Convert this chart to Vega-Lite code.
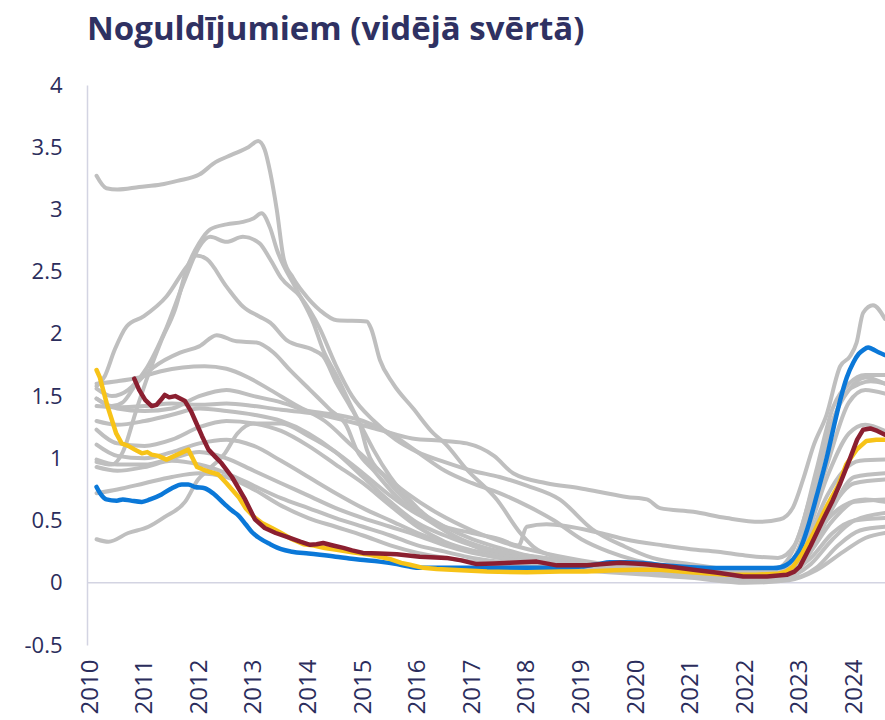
{
  "$schema": "https://vega.github.io/schema/vega-lite/v6.json",
  "width": 798,
  "height": 560,
  "autosize": {"type": "none"},
  "padding": {"left": 87, "top": 85, "right": 0, "bottom": 75},
  "background": "white",
  "config": {"view": {"stroke": null}, "font": "Open Sans"},
  "title": {"text": "Noguldījumiem (vidējā svērtā)", "anchor": "start", "frame": "group", "font": "Open Sans", "fontSize": 33, "fontWeight": "bold", "color": "#2f3162", "baseline": "alphabetic", "offset": 34, "dy": 33},
  "datasets": {
    "lines": [
      {"s":"g1","t":2010.12,"v":3.27},{"s":"g1","t":2010.3,"v":3.17},{"s":"g1","t":2010.5,"v":3.16},{"s":"g1","t":2010.9,"v":3.18},{"s":"g1","t":2011.3,"v":3.2},{"s":"g1","t":2011.6,"v":3.23},{"s":"g1","t":2012.0,"v":3.28},{"s":"g1","t":2012.3,"v":3.38},{"s":"g1","t":2012.6,"v":3.44},{"s":"g1","t":2012.9,"v":3.5},{"s":"g1","t":2013.08,"v":3.55},{"s":"g1","t":2013.2,"v":3.48},{"s":"g1","t":2013.3,"v":3.3},{"s":"g1","t":2013.42,"v":3.0},{"s":"g1","t":2013.55,"v":2.6},{"s":"g1","t":2013.72,"v":2.45},{"s":"g1","t":2013.91,"v":2.33},{"s":"g1","t":2014.21,"v":2.19},{"s":"g1","t":2014.52,"v":2.11},{"s":"g1","t":2015.07,"v":2.1},{"s":"g1","t":2015.15,"v":2.04},{"s":"g1","t":2015.31,"v":1.79},{"s":"g1","t":2015.55,"v":1.6},{"s":"g1","t":2015.92,"v":1.4},{"s":"g1","t":2016.29,"v":1.2},{"s":"g1","t":2016.5,"v":1.12},{"s":"g1","t":2016.9,"v":0.91},{"s":"g1","t":2017.45,"v":0.67},{"s":"g1","t":2017.88,"v":0.4},{"s":"g1","t":2018.12,"v":0.29},{"s":"g1","t":2018.6,"v":0.2},{"s":"g1","t":2019.2,"v":0.15},{"s":"g1","t":2020,"v":0.1},{"s":"g1","t":2021,"v":0.06},{"s":"g1","t":2022,"v":0.03},{"s":"g1","t":2022.6,"v":0.05},{"s":"g1","t":2023.0,"v":0.15},{"s":"g1","t":2023.4,"v":0.45},{"s":"g1","t":2023.8,"v":0.62},{"s":"g1","t":2024.2,"v":0.67},{"s":"g1","t":2024.56,"v":0.65},

      {"s":"g2","t":2010.12,"v":0.97},{"s":"g2","t":2010.4,"v":0.95},{"s":"g2","t":2010.6,"v":1.05},{"s":"g2","t":2010.85,"v":1.39},{"s":"g2","t":2011.05,"v":1.65},{"s":"g2","t":2011.31,"v":1.95},{"s":"g2","t":2011.56,"v":2.2},{"s":"g2","t":2011.77,"v":2.52},{"s":"g2","t":2012.0,"v":2.73},{"s":"g2","t":2012.2,"v":2.84},{"s":"g2","t":2012.5,"v":2.88},{"s":"g2","t":2012.8,"v":2.9},{"s":"g2","t":2013.0,"v":2.93},{"s":"g2","t":2013.14,"v":2.97},{"s":"g2","t":2013.3,"v":2.85},{"s":"g2","t":2013.42,"v":2.68},{"s":"g2","t":2013.78,"v":2.36},{"s":"g2","t":2014.09,"v":2.09},{"s":"g2","t":2014.27,"v":1.87},{"s":"g2","t":2014.52,"v":1.66},{"s":"g2","t":2014.76,"v":1.44},{"s":"g2","t":2015.0,"v":1.23},{"s":"g2","t":2015.19,"v":1.07},{"s":"g2","t":2015.5,"v":0.85},{"s":"g2","t":2016,"v":0.6},{"s":"g2","t":2016.5,"v":0.42},{"s":"g2","t":2017,"v":0.3},{"s":"g2","t":2017.5,"v":0.22},{"s":"g2","t":2018,"v":0.17},{"s":"g2","t":2019,"v":0.12},{"s":"g2","t":2020,"v":0.08},{"s":"g2","t":2021,"v":0.05},{"s":"g2","t":2022,"v":0.02},{"s":"g2","t":2022.6,"v":0.04},{"s":"g2","t":2023,"v":0.15},{"s":"g2","t":2023.3,"v":0.4},{"s":"g2","t":2023.6,"v":0.62},{"s":"g2","t":2024,"v":0.8},{"s":"g2","t":2024.56,"v":0.83},

      {"s":"g3","t":2010.12,"v":1.56},{"s":"g3","t":2010.4,"v":1.5},{"s":"g3","t":2010.7,"v":1.55},{"s":"g3","t":2011.0,"v":1.7},{"s":"g3","t":2011.4,"v":2.05},{"s":"g3","t":2011.75,"v":2.45},{"s":"g3","t":2012.0,"v":2.7},{"s":"g3","t":2012.2,"v":2.78},{"s":"g3","t":2012.5,"v":2.74},{"s":"g3","t":2012.8,"v":2.78},{"s":"g3","t":2013.1,"v":2.73},{"s":"g3","t":2013.3,"v":2.6},{"s":"g3","t":2013.5,"v":2.45},{"s":"g3","t":2013.85,"v":2.3},{"s":"g3","t":2014.2,"v":2.05},{"s":"g3","t":2014.5,"v":1.75},{"s":"g3","t":2014.8,"v":1.5},{"s":"g3","t":2015.2,"v":1.3},{"s":"g3","t":2015.6,"v":1.15},{"s":"g3","t":2016,"v":1.05},{"s":"g3","t":2016.5,"v":0.97},{"s":"g3","t":2017,"v":0.9},{"s":"g3","t":2017.5,"v":0.85},{"s":"g3","t":2018,"v":0.78},{"s":"g3","t":2018.6,"v":0.67},{"s":"g3","t":2019.2,"v":0.43},{"s":"g3","t":2019.8,"v":0.29},{"s":"g3","t":2020.3,"v":0.2},{"s":"g3","t":2021,"v":0.15},{"s":"g3","t":2022,"v":0.1},{"s":"g3","t":2022.6,"v":0.12},{"s":"g3","t":2023.0,"v":0.4},{"s":"g3","t":2023.3,"v":0.9},{"s":"g3","t":2023.6,"v":1.4},{"s":"g3","t":2023.9,"v":1.6},{"s":"g3","t":2024.2,"v":1.67},{"s":"g3","t":2024.56,"v":1.67},

      {"s":"g4","t":2010.12,"v":1.58},{"s":"g4","t":2010.27,"v":1.66},{"s":"g4","t":2010.45,"v":1.87},{"s":"g4","t":2010.67,"v":2.06},{"s":"g4","t":2010.98,"v":2.14},{"s":"g4","t":2011.4,"v":2.3},{"s":"g4","t":2011.77,"v":2.54},{"s":"g4","t":2011.95,"v":2.63},{"s":"g4","t":2012.14,"v":2.6},{"s":"g4","t":2012.5,"v":2.38},{"s":"g4","t":2012.8,"v":2.22},{"s":"g4","t":2013.1,"v":2.14},{"s":"g4","t":2013.3,"v":2.09},{"s":"g4","t":2013.6,"v":1.95},{"s":"g4","t":2014.09,"v":1.87},{"s":"g4","t":2014.27,"v":1.82},{"s":"g4","t":2014.52,"v":1.6},{"s":"g4","t":2014.76,"v":1.42},{"s":"g4","t":2014.95,"v":1.26},{"s":"g4","t":2015.07,"v":1.07},{"s":"g4","t":2015.4,"v":0.85},{"s":"g4","t":2015.9,"v":0.62},{"s":"g4","t":2016.5,"v":0.45},{"s":"g4","t":2017,"v":0.35},{"s":"g4","t":2017.5,"v":0.28},{"s":"g4","t":2018,"v":0.22},{"s":"g4","t":2019,"v":0.15},{"s":"g4","t":2020,"v":0.1},{"s":"g4","t":2021,"v":0.07},{"s":"g4","t":2022,"v":0.04},{"s":"g4","t":2022.7,"v":0.06},{"s":"g4","t":2023.1,"v":0.3},{"s":"g4","t":2023.5,"v":0.7},{"s":"g4","t":2023.8,"v":0.9},{"s":"g4","t":2024.1,"v":0.98},{"s":"g4","t":2024.56,"v":0.99},

      {"s":"g5","t":2010.12,"v":0.35},{"s":"g5","t":2010.34,"v":0.33},{"s":"g5","t":2010.7,"v":0.4},{"s":"g5","t":2011.07,"v":0.45},{"s":"g5","t":2011.37,"v":0.53},{"s":"g5","t":2011.74,"v":0.65},{"s":"g5","t":2011.98,"v":0.83},{"s":"g5","t":2012.17,"v":0.91},{"s":"g5","t":2012.47,"v":1.04},{"s":"g5","t":2012.7,"v":1.2},{"s":"g5","t":2013.0,"v":1.28},{"s":"g5","t":2013.5,"v":1.28},{"s":"g5","t":2014,"v":1.18},{"s":"g5","t":2014.5,"v":1.05},{"s":"g5","t":2015,"v":0.88},{"s":"g5","t":2015.5,"v":0.7},{"s":"g5","t":2016,"v":0.55},{"s":"g5","t":2016.5,"v":0.45},{"s":"g5","t":2017,"v":0.4},{"s":"g5","t":2017.5,"v":0.35},{"s":"g5","t":2017.85,"v":0.3},{"s":"g5","t":2018.0,"v":0.45},{"s":"g5","t":2018.36,"v":0.47},{"s":"g5","t":2019.34,"v":0.4},{"s":"g5","t":2019.8,"v":0.35},{"s":"g5","t":2020.5,"v":0.3},{"s":"g5","t":2021,"v":0.27},{"s":"g5","t":2021.5,"v":0.25},{"s":"g5","t":2022,"v":0.22},{"s":"g5","t":2022.6,"v":0.2},{"s":"g5","t":2022.9,"v":0.3},{"s":"g5","t":2023.2,"v":0.7},{"s":"g5","t":2023.5,"v":1.15},{"s":"g5","t":2023.8,"v":1.5},{"s":"g5","t":2024.1,"v":1.6},{"s":"g5","t":2024.3,"v":1.62},{"s":"g5","t":2024.56,"v":1.6},

      {"s":"g6","t":2010.12,"v":1.48},{"s":"g6","t":2010.4,"v":1.42},{"s":"g6","t":2010.6,"v":1.45},{"s":"g6","t":2010.85,"v":1.6},{"s":"g6","t":2011.16,"v":1.73},{"s":"g6","t":2011.65,"v":1.85},{"s":"g6","t":2012.0,"v":1.9},{"s":"g6","t":2012.32,"v":1.99},{"s":"g6","t":2012.68,"v":1.94},{"s":"g6","t":2013.05,"v":1.93},{"s":"g6","t":2013.36,"v":1.85},{"s":"g6","t":2013.66,"v":1.71},{"s":"g6","t":2014.03,"v":1.55},{"s":"g6","t":2014.4,"v":1.39},{"s":"g6","t":2014.7,"v":1.26},{"s":"g6","t":2014.88,"v":1.07},{"s":"g6","t":2015.2,"v":0.9},{"s":"g6","t":2015.6,"v":0.7},{"s":"g6","t":2016.2,"v":0.5},{"s":"g6","t":2016.8,"v":0.35},{"s":"g6","t":2017.5,"v":0.25},{"s":"g6","t":2018.3,"v":0.18},{"s":"g6","t":2019.3,"v":0.12},{"s":"g6","t":2020.5,"v":0.08},{"s":"g6","t":2021.5,"v":0.05},{"s":"g6","t":2022.3,"v":0.02},{"s":"g6","t":2022.8,"v":0.05},{"s":"g6","t":2023.2,"v":0.25},{"s":"g6","t":2023.6,"v":0.6},{"s":"g6","t":2024.0,"v":0.85},{"s":"g6","t":2024.56,"v":0.88},

      {"s":"g7","t":2010.12,"v":1.6},{"s":"g7","t":2010.5,"v":1.62},{"s":"g7","t":2010.9,"v":1.65},{"s":"g7","t":2011.3,"v":1.7},{"s":"g7","t":2011.7,"v":1.73},{"s":"g7","t":2012.1,"v":1.74},{"s":"g7","t":2012.5,"v":1.72},{"s":"g7","t":2012.9,"v":1.65},{"s":"g7","t":2013.3,"v":1.55},{"s":"g7","t":2013.8,"v":1.42},{"s":"g7","t":2014.3,"v":1.3},{"s":"g7","t":2014.8,"v":1.1},{"s":"g7","t":2015.3,"v":0.9},{"s":"g7","t":2015.8,"v":0.72},{"s":"g7","t":2016.4,"v":0.55},{"s":"g7","t":2017,"v":0.42},{"s":"g7","t":2017.6,"v":0.32},{"s":"g7","t":2018.2,"v":0.25},{"s":"g7","t":2019,"v":0.18},{"s":"g7","t":2020,"v":0.12},{"s":"g7","t":2021,"v":0.1},{"s":"g7","t":2022,"v":0.08},{"s":"g7","t":2022.7,"v":0.1},{"s":"g7","t":2023.0,"v":0.3},{"s":"g7","t":2023.3,"v":0.8},{"s":"g7","t":2023.6,"v":1.3},{"s":"g7","t":2023.9,"v":1.55},{"s":"g7","t":2024.2,"v":1.65},{"s":"g7","t":2024.56,"v":1.6},

      {"s":"g8","t":2010.12,"v":1.42},{"s":"g8","t":2010.5,"v":1.41},{"s":"g8","t":2011,"v":1.42},{"s":"g8","t":2011.5,"v":1.44},{"s":"g8","t":2012,"v":1.43},{"s":"g8","t":2012.5,"v":1.44},{"s":"g8","t":2013,"v":1.42},{"s":"g8","t":2013.5,"v":1.39},{"s":"g8","t":2014.1,"v":1.36},{"s":"g8","t":2014.7,"v":1.3},{"s":"g8","t":2015.3,"v":1.23},{"s":"g8","t":2015.9,"v":1.16},{"s":"g8","t":2016.5,"v":1.14},{"s":"g8","t":2016.9,"v":1.12},{"s":"g8","t":2017.4,"v":1.02},{"s":"g8","t":2017.75,"v":0.88},{"s":"g8","t":2018.36,"v":0.8},{"s":"g8","t":2018.97,"v":0.76},{"s":"g8","t":2019.34,"v":0.73},{"s":"g8","t":2019.83,"v":0.69},{"s":"g8","t":2020.2,"v":0.67},{"s":"g8","t":2020.44,"v":0.6},{"s":"g8","t":2021.05,"v":0.57},{"s":"g8","t":2021.66,"v":0.52},{"s":"g8","t":2022.27,"v":0.49},{"s":"g8","t":2022.64,"v":0.51},{"s":"g8","t":2022.88,"v":0.61},{"s":"g8","t":2023.06,"v":0.83},{"s":"g8","t":2023.25,"v":1.1},{"s":"g8","t":2023.49,"v":1.35},{"s":"g8","t":2023.74,"v":1.74},{"s":"g8","t":2023.92,"v":1.82},{"s":"g8","t":2024.04,"v":1.93},{"s":"g8","t":2024.16,"v":2.17},{"s":"g8","t":2024.34,"v":2.23},{"s":"g8","t":2024.56,"v":2.12},

      {"s":"g9","t":2010.12,"v":1.3},{"s":"g9","t":2010.5,"v":1.27},{"s":"g9","t":2011,"v":1.3},{"s":"g9","t":2011.5,"v":1.35},{"s":"g9","t":2012,"v":1.4},{"s":"g9","t":2012.5,"v":1.38},{"s":"g9","t":2013,"v":1.35},{"s":"g9","t":2013.5,"v":1.3},{"s":"g9","t":2014,"v":1.2},{"s":"g9","t":2014.5,"v":1.05},{"s":"g9","t":2015,"v":0.85},{"s":"g9","t":2015.5,"v":0.65},{"s":"g9","t":2016,"v":0.48},{"s":"g9","t":2016.5,"v":0.38},{"s":"g9","t":2017,"v":0.3},{"s":"g9","t":2017.5,"v":0.25},{"s":"g9","t":2018,"v":0.22},{"s":"g9","t":2019,"v":0.16},{"s":"g9","t":2020,"v":0.1},{"s":"g9","t":2021,"v":0.07},{"s":"g9","t":2022,"v":0.05},{"s":"g9","t":2022.7,"v":0.08},{"s":"g9","t":2023.1,"v":0.35},{"s":"g9","t":2023.5,"v":0.85},{"s":"g9","t":2023.9,"v":1.2},{"s":"g9","t":2024.2,"v":1.27},{"s":"g9","t":2024.56,"v":1.22},

      {"s":"g10","t":2010.12,"v":1.23},{"s":"g10","t":2010.5,"v":1.12},{"s":"g10","t":2011,"v":1.1},{"s":"g10","t":2011.5,"v":1.15},{"s":"g10","t":2012,"v":1.25},{"s":"g10","t":2012.5,"v":1.3},{"s":"g10","t":2013,"v":1.28},{"s":"g10","t":2013.5,"v":1.22},{"s":"g10","t":2014,"v":1.1},{"s":"g10","t":2014.5,"v":0.95},{"s":"g10","t":2015,"v":0.8},{"s":"g10","t":2015.5,"v":0.62},{"s":"g10","t":2016,"v":0.45},{"s":"g10","t":2016.5,"v":0.33},{"s":"g10","t":2017,"v":0.26},{"s":"g10","t":2017.5,"v":0.22},{"s":"g10","t":2018,"v":0.2},{"s":"g10","t":2019,"v":0.15},{"s":"g10","t":2020,"v":0.12},{"s":"g10","t":2021,"v":0.1},{"s":"g10","t":2022,"v":0.07},{"s":"g10","t":2022.7,"v":0.08},{"s":"g10","t":2023.1,"v":0.2},{"s":"g10","t":2023.6,"v":0.5},{"s":"g10","t":2024,"v":0.65},{"s":"g10","t":2024.56,"v":0.67},

      {"s":"g11","t":2010.12,"v":1.11},{"s":"g11","t":2010.5,"v":1.02},{"s":"g11","t":2011,"v":1.0},{"s":"g11","t":2011.5,"v":1.05},{"s":"g11","t":2012,"v":1.12},{"s":"g11","t":2012.5,"v":1.15},{"s":"g11","t":2013,"v":1.1},{"s":"g11","t":2013.5,"v":0.98},{"s":"g11","t":2014,"v":0.85},{"s":"g11","t":2014.5,"v":0.72},{"s":"g11","t":2015,"v":0.6},{"s":"g11","t":2015.5,"v":0.5},{"s":"g11","t":2016,"v":0.4},{"s":"g11","t":2016.5,"v":0.32},{"s":"g11","t":2017,"v":0.25},{"s":"g11","t":2017.5,"v":0.2},{"s":"g11","t":2018,"v":0.18},{"s":"g11","t":2019,"v":0.14},{"s":"g11","t":2020,"v":0.1},{"s":"g11","t":2021,"v":0.06},{"s":"g11","t":2022,"v":0.03},{"s":"g11","t":2022.7,"v":0.04},{"s":"g11","t":2023.2,"v":0.15},{"s":"g11","t":2023.6,"v":0.35},{"s":"g11","t":2024,"v":0.5},{"s":"g11","t":2024.56,"v":0.56},

      {"s":"g12","t":2010.12,"v":0.99},{"s":"g12","t":2010.5,"v":0.95},{"s":"g12","t":2011,"v":0.95},{"s":"g12","t":2011.5,"v":1.0},{"s":"g12","t":2012,"v":1.05},{"s":"g12","t":2012.5,"v":1.0},{"s":"g12","t":2013,"v":0.9},{"s":"g12","t":2013.5,"v":0.8},{"s":"g12","t":2014,"v":0.7},{"s":"g12","t":2014.5,"v":0.6},{"s":"g12","t":2015,"v":0.52},{"s":"g12","t":2015.5,"v":0.45},{"s":"g12","t":2016,"v":0.38},{"s":"g12","t":2016.5,"v":0.3},{"s":"g12","t":2017,"v":0.24},{"s":"g12","t":2017.5,"v":0.2},{"s":"g12","t":2018,"v":0.17},{"s":"g12","t":2019,"v":0.13},{"s":"g12","t":2020,"v":0.1},{"s":"g12","t":2021,"v":0.08},{"s":"g12","t":2022,"v":0.06},{"s":"g12","t":2022.7,"v":0.07},{"s":"g12","t":2023.2,"v":0.2},{"s":"g12","t":2023.6,"v":0.4},{"s":"g12","t":2024,"v":0.5},{"s":"g12","t":2024.56,"v":0.52},

      {"s":"g13","t":2010.12,"v":0.93},{"s":"g13","t":2010.5,"v":0.9},{"s":"g13","t":2011,"v":0.93},{"s":"g13","t":2011.5,"v":0.98},{"s":"g13","t":2012,"v":0.95},{"s":"g13","t":2012.5,"v":0.88},{"s":"g13","t":2013,"v":0.78},{"s":"g13","t":2013.5,"v":0.68},{"s":"g13","t":2014,"v":0.6},{"s":"g13","t":2014.5,"v":0.52},{"s":"g13","t":2015,"v":0.45},{"s":"g13","t":2015.5,"v":0.38},{"s":"g13","t":2016,"v":0.3},{"s":"g13","t":2016.5,"v":0.25},{"s":"g13","t":2017,"v":0.2},{"s":"g13","t":2017.5,"v":0.17},{"s":"g13","t":2018,"v":0.15},{"s":"g13","t":2019,"v":0.12},{"s":"g13","t":2020,"v":0.08},{"s":"g13","t":2021,"v":0.05},{"s":"g13","t":2022,"v":0.02},{"s":"g13","t":2022.8,"v":0.03},{"s":"g13","t":2023.3,"v":0.12},{"s":"g13","t":2023.7,"v":0.3},{"s":"g13","t":2024.1,"v":0.42},{"s":"g13","t":2024.56,"v":0.45},

      {"s":"g14","t":2010.12,"v":0.72},{"s":"g14","t":2010.5,"v":0.75},{"s":"g14","t":2011,"v":0.8},{"s":"g14","t":2011.5,"v":0.85},{"s":"g14","t":2012,"v":0.88},{"s":"g14","t":2012.5,"v":0.85},{"s":"g14","t":2013,"v":0.75},{"s":"g14","t":2013.5,"v":0.62},{"s":"g14","t":2014,"v":0.52},{"s":"g14","t":2014.5,"v":0.45},{"s":"g14","t":2015,"v":0.38},{"s":"g14","t":2015.5,"v":0.3},{"s":"g14","t":2016,"v":0.24},{"s":"g14","t":2016.5,"v":0.2},{"s":"g14","t":2017,"v":0.17},{"s":"g14","t":2017.5,"v":0.15},{"s":"g14","t":2018,"v":0.13},{"s":"g14","t":2019,"v":0.1},{"s":"g14","t":2020,"v":0.07},{"s":"g14","t":2021,"v":0.04},{"s":"g14","t":2022,"v":0.0},{"s":"g14","t":2022.8,"v":0.02},{"s":"g14","t":2023.3,"v":0.1},{"s":"g14","t":2023.8,"v":0.25},{"s":"g14","t":2024.2,"v":0.36},{"s":"g14","t":2024.56,"v":0.4},

      {"s":"g15","t":2010.12,"v":1.48},{"s":"g15","t":2010.5,"v":1.4},{"s":"g15","t":2011,"v":1.38},{"s":"g15","t":2011.5,"v":1.4},{"s":"g15","t":2012,"v":1.5},{"s":"g15","t":2012.5,"v":1.55},{"s":"g15","t":2013,"v":1.5},{"s":"g15","t":2013.5,"v":1.45},{"s":"g15","t":2014,"v":1.38},{"s":"g15","t":2014.5,"v":1.35},{"s":"g15","t":2015,"v":1.3},{"s":"g15","t":2015.5,"v":1.2},{"s":"g15","t":2016,"v":1.05},{"s":"g15","t":2016.5,"v":0.9},{"s":"g15","t":2017,"v":0.8},{"s":"g15","t":2017.5,"v":0.72},{"s":"g15","t":2018,"v":0.62},{"s":"g15","t":2018.5,"v":0.5},{"s":"g15","t":2019,"v":0.35},{"s":"g15","t":2019.5,"v":0.25},{"s":"g15","t":2020,"v":0.18},{"s":"g15","t":2021,"v":0.12},{"s":"g15","t":2022,"v":0.08},{"s":"g15","t":2022.7,"v":0.1},{"s":"g15","t":2023.1,"v":0.4},{"s":"g15","t":2023.5,"v":0.95},{"s":"g15","t":2023.9,"v":1.45},{"s":"g15","t":2024.2,"v":1.55},{"s":"g15","t":2024.56,"v":1.52},

      {"s":"blue","t":2010.12,"v":0.77},{"s":"blue","t":2010.2,"v":0.71},{"s":"blue","t":2010.3,"v":0.67},{"s":"blue","t":2010.49,"v":0.66},{"s":"blue","t":2010.6,"v":0.67},{"s":"blue","t":2010.75,"v":0.66},{"s":"blue","t":2010.95,"v":0.65},{"s":"blue","t":2011.1,"v":0.67},{"s":"blue","t":2011.31,"v":0.71},{"s":"blue","t":2011.5,"v":0.76},{"s":"blue","t":2011.68,"v":0.79},{"s":"blue","t":2011.8,"v":0.79},{"s":"blue","t":2011.92,"v":0.77},{"s":"blue","t":2012.1,"v":0.76},{"s":"blue","t":2012.25,"v":0.72},{"s":"blue","t":2012.47,"v":0.63},{"s":"blue","t":2012.6,"v":0.58},{"s":"blue","t":2012.72,"v":0.54},{"s":"blue","t":2012.85,"v":0.47},{"s":"blue","t":2012.96,"v":0.41},{"s":"blue","t":2013.1,"v":0.36},{"s":"blue","t":2013.3,"v":0.31},{"s":"blue","t":2013.5,"v":0.27},{"s":"blue","t":2013.7,"v":0.25},{"s":"blue","t":2014.0,"v":0.235},{"s":"blue","t":2014.21,"v":0.225},{"s":"blue","t":2014.5,"v":0.21},{"s":"blue","t":2014.75,"v":0.195},{"s":"blue","t":2014.95,"v":0.185},{"s":"blue","t":2015.3,"v":0.17},{"s":"blue","t":2015.62,"v":0.15},{"s":"blue","t":2015.85,"v":0.13},{"s":"blue","t":2016.04,"v":0.12},{"s":"blue","t":2016.5,"v":0.12},{"s":"blue","t":2016.96,"v":0.12},{"s":"blue","t":2017.5,"v":0.12},{"s":"blue","t":2018,"v":0.12},{"s":"blue","t":2018.5,"v":0.12},{"s":"blue","t":2019,"v":0.13},{"s":"blue","t":2019.3,"v":0.15},{"s":"blue","t":2019.52,"v":0.165},{"s":"blue","t":2019.8,"v":0.165},{"s":"blue","t":2020.13,"v":0.158},{"s":"blue","t":2020.5,"v":0.14},{"s":"blue","t":2021,"v":0.125},{"s":"blue","t":2021.66,"v":0.118},{"s":"blue","t":2022.1,"v":0.118},{"s":"blue","t":2022.51,"v":0.118},{"s":"blue","t":2022.65,"v":0.125},{"s":"blue","t":2022.76,"v":0.145},{"s":"blue","t":2022.88,"v":0.19},{"s":"blue","t":2023.0,"v":0.265},{"s":"blue","t":2023.15,"v":0.45},{"s":"blue","t":2023.31,"v":0.7},{"s":"blue","t":2023.49,"v":1.0},{"s":"blue","t":2023.62,"v":1.25},{"s":"blue","t":2023.74,"v":1.47},{"s":"blue","t":2023.86,"v":1.65},{"s":"blue","t":2023.98,"v":1.77},{"s":"blue","t":2024.08,"v":1.84},{"s":"blue","t":2024.16,"v":1.87},{"s":"blue","t":2024.25,"v":1.89},{"s":"blue","t":2024.32,"v":1.88},{"s":"blue","t":2024.45,"v":1.85},{"s":"blue","t":2024.56,"v":1.83},

      {"s":"yellow","t":2010.12,"v":1.71},{"s":"yellow","t":2010.18,"v":1.65},{"s":"yellow","t":2010.24,"v":1.55},{"s":"yellow","t":2010.32,"v":1.42},{"s":"yellow","t":2010.4,"v":1.31},{"s":"yellow","t":2010.48,"v":1.2},{"s":"yellow","t":2010.58,"v":1.12},{"s":"yellow","t":2010.7,"v":1.1},{"s":"yellow","t":2010.82,"v":1.07},{"s":"yellow","t":2010.95,"v":1.04},{"s":"yellow","t":2011.05,"v":1.05},{"s":"yellow","t":2011.13,"v":1.03},{"s":"yellow","t":2011.25,"v":1.02},{"s":"yellow","t":2011.4,"v":0.99},{"s":"yellow","t":2011.55,"v":1.02},{"s":"yellow","t":2011.7,"v":1.05},{"s":"yellow","t":2011.8,"v":1.07},{"s":"yellow","t":2011.88,"v":1.0},{"s":"yellow","t":2011.96,"v":0.93},{"s":"yellow","t":2012.07,"v":0.91},{"s":"yellow","t":2012.2,"v":0.89},{"s":"yellow","t":2012.35,"v":0.87},{"s":"yellow","t":2012.5,"v":0.8},{"s":"yellow","t":2012.6,"v":0.75},{"s":"yellow","t":2012.72,"v":0.69},{"s":"yellow","t":2012.85,"v":0.6},{"s":"yellow","t":2013.0,"v":0.53},{"s":"yellow","t":2013.15,"v":0.48},{"s":"yellow","t":2013.33,"v":0.44},{"s":"yellow","t":2013.5,"v":0.4},{"s":"yellow","t":2013.7,"v":0.35},{"s":"yellow","t":2013.91,"v":0.31},{"s":"yellow","t":2014.1,"v":0.3},{"s":"yellow","t":2014.3,"v":0.28},{"s":"yellow","t":2014.52,"v":0.265},{"s":"yellow","t":2014.8,"v":0.245},{"s":"yellow","t":2015.13,"v":0.225},{"s":"yellow","t":2015.5,"v":0.19},{"s":"yellow","t":2015.7,"v":0.16},{"s":"yellow","t":2015.86,"v":0.145},{"s":"yellow","t":2016.1,"v":0.12},{"s":"yellow","t":2016.35,"v":0.11},{"s":"yellow","t":2016.8,"v":0.1},{"s":"yellow","t":2017.27,"v":0.09},{"s":"yellow","t":2018,"v":0.085},{"s":"yellow","t":2018.61,"v":0.09},{"s":"yellow","t":2019.1,"v":0.09},{"s":"yellow","t":2019.6,"v":0.1},{"s":"yellow","t":2020,"v":0.105},{"s":"yellow","t":2020.44,"v":0.105},{"s":"yellow","t":2021,"v":0.085},{"s":"yellow","t":2021.66,"v":0.064},{"s":"yellow","t":2022.2,"v":0.065},{"s":"yellow","t":2022.58,"v":0.072},{"s":"yellow","t":2022.75,"v":0.09},{"s":"yellow","t":2022.88,"v":0.13},{"s":"yellow","t":2023.05,"v":0.24},{"s":"yellow","t":2023.25,"v":0.4},{"s":"yellow","t":2023.5,"v":0.62},{"s":"yellow","t":2023.7,"v":0.78},{"s":"yellow","t":2023.85,"v":0.95},{"s":"yellow","t":2024.04,"v":1.07},{"s":"yellow","t":2024.22,"v":1.14},{"s":"yellow","t":2024.4,"v":1.15},{"s":"yellow","t":2024.56,"v":1.15},

      {"s":"red","t":2010.81,"v":1.64},{"s":"red","t":2010.9,"v":1.55},{"s":"red","t":2011.01,"v":1.47},{"s":"red","t":2011.13,"v":1.42},{"s":"red","t":2011.22,"v":1.43},{"s":"red","t":2011.3,"v":1.47},{"s":"red","t":2011.37,"v":1.51},{"s":"red","t":2011.45,"v":1.49},{"s":"red","t":2011.56,"v":1.5},{"s":"red","t":2011.74,"v":1.46},{"s":"red","t":2011.85,"v":1.38},{"s":"red","t":2011.92,"v":1.31},{"s":"red","t":2012.05,"v":1.18},{"s":"red","t":2012.17,"v":1.07},{"s":"red","t":2012.3,"v":1.01},{"s":"red","t":2012.41,"v":0.96},{"s":"red","t":2012.6,"v":0.85},{"s":"red","t":2012.84,"v":0.67},{"s":"red","t":2013.02,"v":0.51},{"s":"red","t":2013.2,"v":0.44},{"s":"red","t":2013.4,"v":0.4},{"s":"red","t":2013.66,"v":0.36},{"s":"red","t":2013.85,"v":0.33},{"s":"red","t":2014.03,"v":0.305},{"s":"red","t":2014.15,"v":0.31},{"s":"red","t":2014.27,"v":0.32},{"s":"red","t":2014.45,"v":0.3},{"s":"red","t":2014.64,"v":0.28},{"s":"red","t":2014.8,"v":0.26},{"s":"red","t":2015.0,"v":0.24},{"s":"red","t":2015.3,"v":0.235},{"s":"red","t":2015.62,"v":0.23},{"s":"red","t":2016.04,"v":0.21},{"s":"red","t":2016.53,"v":0.2},{"s":"red","t":2016.8,"v":0.18},{"s":"red","t":2017.08,"v":0.15},{"s":"red","t":2017.4,"v":0.155},{"s":"red","t":2017.69,"v":0.16},{"s":"red","t":2018.18,"v":0.17},{"s":"red","t":2018.55,"v":0.14},{"s":"red","t":2019.1,"v":0.14},{"s":"red","t":2019.4,"v":0.15},{"s":"red","t":2019.7,"v":0.16},{"s":"red","t":2020.13,"v":0.15},{"s":"red","t":2020.6,"v":0.13},{"s":"red","t":2021.05,"v":0.105},{"s":"red","t":2021.5,"v":0.08},{"s":"red","t":2021.96,"v":0.05},{"s":"red","t":2022.4,"v":0.05},{"s":"red","t":2022.76,"v":0.064},{"s":"red","t":2022.9,"v":0.09},{"s":"red","t":2023.0,"v":0.13},{"s":"red","t":2023.2,"v":0.3},{"s":"red","t":2023.43,"v":0.51},{"s":"red","t":2023.6,"v":0.66},{"s":"red","t":2023.74,"v":0.8},{"s":"red","t":2023.92,"v":1.0},{"s":"red","t":2024.05,"v":1.15},{"s":"red","t":2024.16,"v":1.23},{"s":"red","t":2024.29,"v":1.24},{"s":"red","t":2024.42,"v":1.22},{"s":"red","t":2024.56,"v":1.19}
    ],
    "zero": [{"v": 0}]
  },
  "layer": [
    {
      "data": {"name": "zero"},
      "mark": {"type": "rule", "color": "#d3d4e2", "strokeWidth": 1.5},
      "encoding": {"y": {"field": "v", "type": "quantitative", "scale": {"domain": [-0.5, 4]}}}
    },
    {
      "data": {"name": "lines"},
      "transform": [{"filter": "indexof(['blue','yellow','red'], datum.s) < 0"}],
      "mark": {"type": "line", "color": "#bfbfbf", "strokeWidth": 4, "strokeJoin": "round", "strokeCap": "round", "interpolate": "monotone", "clip": true},
      "encoding": {
        "x": {"field": "t", "type": "quantitative", "scale": {"domain": [2009.945, 2024.56], "nice": false, "zero": false},
          "axis": {"title": null, "values": [2010,2011,2012,2013,2014,2015,2016,2017,2018,2019,2020,2021,2022,2023,2024], "format": "d", "labelAngle": -90, "labelAlign": "right", "labelBaseline": "middle", "labelFontSize": 24, "labelColor": "#2b2d5c", "labelFont": "Open Sans", "labelPadding": 14, "domain": false, "ticks": false, "grid": false}},
        "y": {"field": "v", "type": "quantitative", "scale": {"domain": [-0.5, 4], "nice": false},
          "axis": {"title": null, "values": [-0.5,0,0.5,1,1.5,2,2.5,3,3.5,4], "labelExpr": "datum.value + ''", "labelFontSize": 22, "labelColor": "#2b2d5c", "labelFont": "Open Sans", "labelPadding": 25, "domainColor": "#d3d4e2", "domainWidth": 1.5, "ticks": false, "grid": false}},
        "detail": {"field": "s"}
      }
    },
    {
      "data": {"name": "lines"},
      "transform": [{"filter": "datum.s == 'blue'"}],
      "mark": {"type": "line", "color": "#0b78d8", "strokeWidth": 4.5, "strokeJoin": "round", "strokeCap": "round", "interpolate": "monotone"},
      "encoding": {"x": {"field": "t", "type": "quantitative"}, "y": {"field": "v", "type": "quantitative"}}
    },
    {
      "data": {"name": "lines"},
      "transform": [{"filter": "datum.s == 'yellow'"}],
      "mark": {"type": "line", "color": "#f7c318", "strokeWidth": 4.5, "strokeJoin": "round", "strokeCap": "round"},
      "encoding": {"x": {"field": "t", "type": "quantitative"}, "y": {"field": "v", "type": "quantitative"}}
    },
    {
      "data": {"name": "lines"},
      "transform": [{"filter": "datum.s == 'red'"}],
      "mark": {"type": "line", "color": "#8b1f30", "strokeWidth": 4.5, "strokeJoin": "round", "strokeCap": "round"},
      "encoding": {"x": {"field": "t", "type": "quantitative"}, "y": {"field": "v", "type": "quantitative"}}
    }
  ]
}
